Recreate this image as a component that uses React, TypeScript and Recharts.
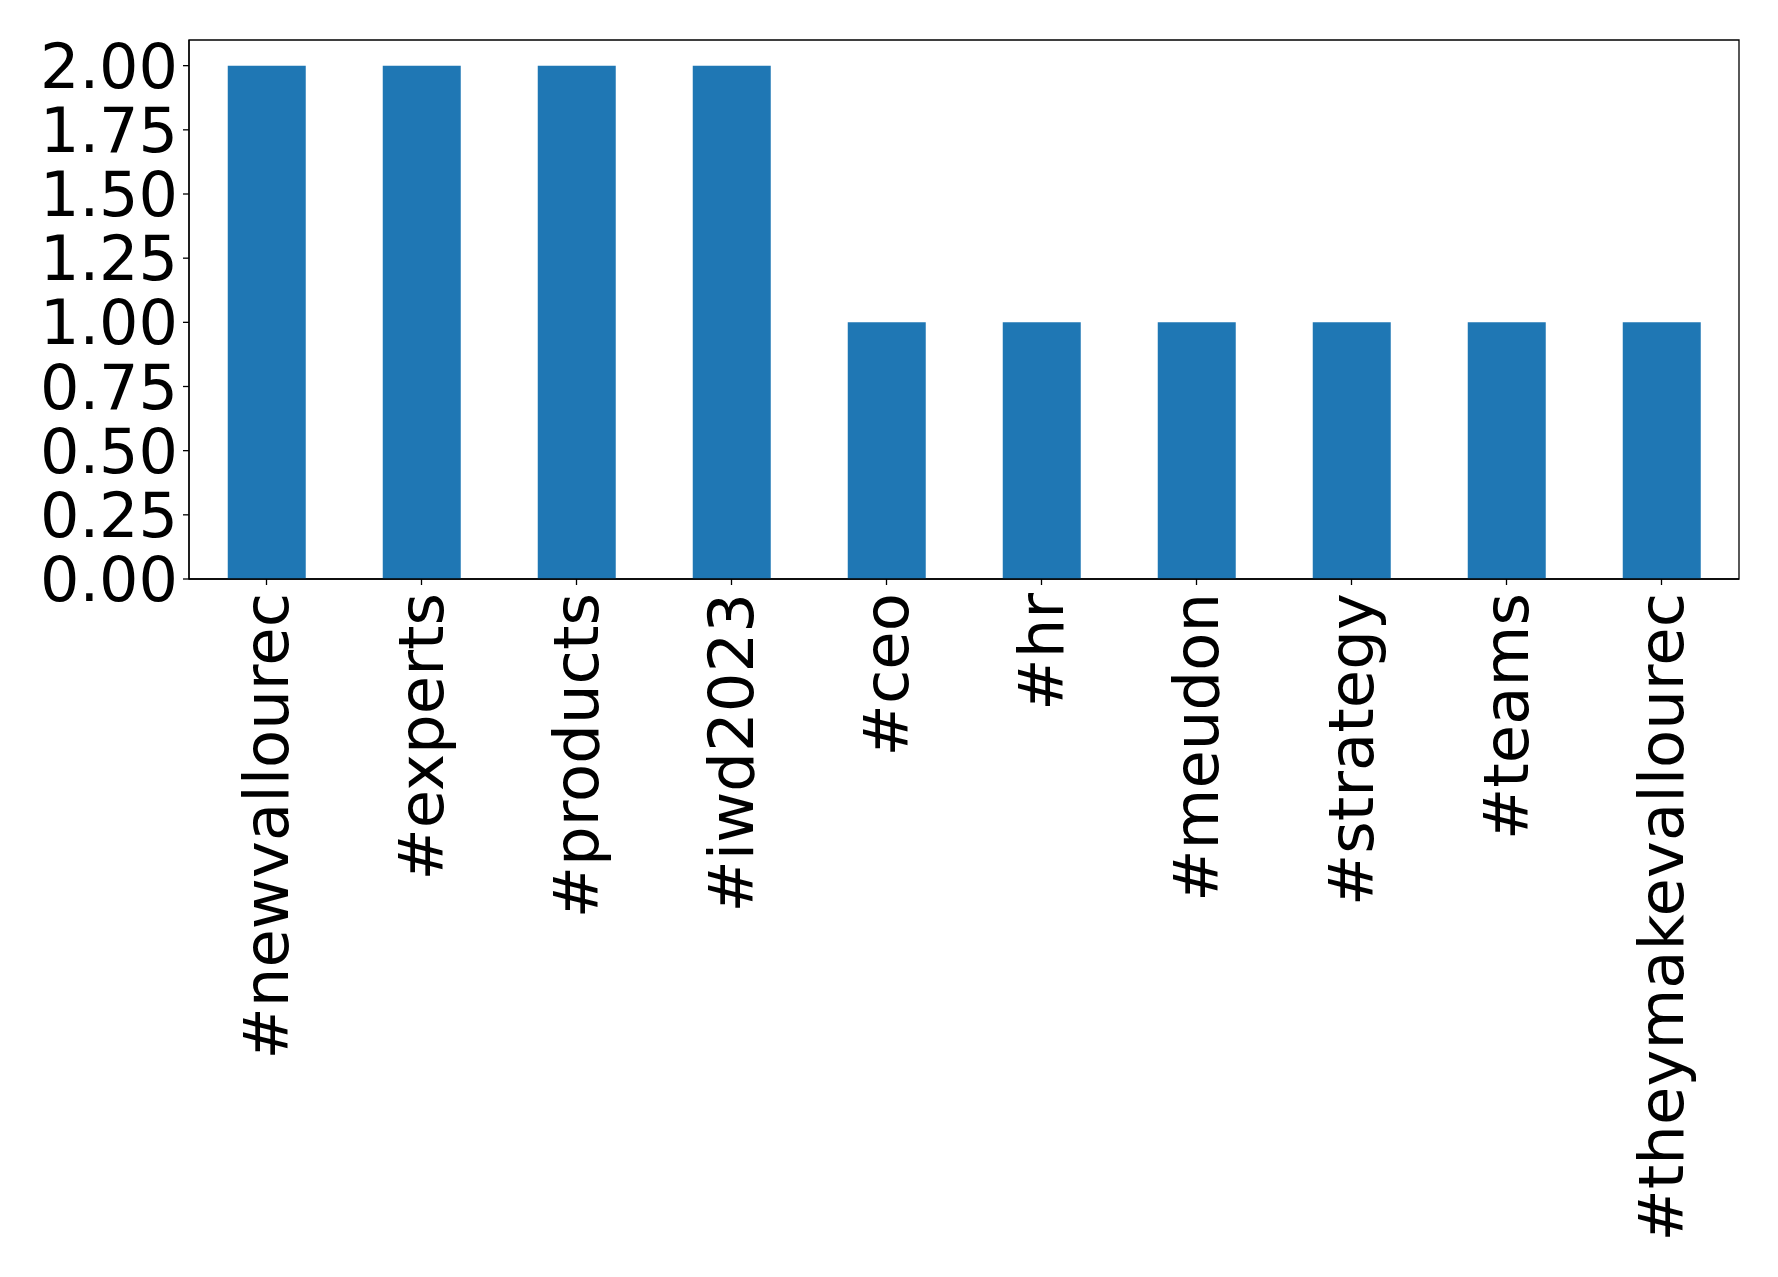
import React from "react";
import { BarChart, Bar, XAxis, YAxis, ReferenceArea } from "recharts";

const hashtags = [
  "#newvallourec",
  "#experts",
  "#products",
  "#iwd2023",
  "#ceo",
  "#hr",
  "#meudon",
  "#strategy",
  "#teams",
  "#theymakevallourec",
];
const counts = [2, 2, 2, 2, 1, 1, 1, 1, 1, 1];
const yTicks = [0, 0.25, 0.5, 0.75, 1, 1.25, 1.5, 1.75, 2];

const FONT = "'DejaVu Sans', sans-serif";

const VerticalTick = (props: any) => {
  const { x, y, payload } = props;
  return (
    <text
      x={x}
      y={y}
      transform={`rotate(-90, ${x}, ${y})`}
      textAnchor="end"
      dominantBaseline="central"
      fontFamily={FONT}
      fontSize={62.5}
      fill="#000"
    >
      {payload.value}
    </text>
  );
};

export default function App() {
  const data = hashtags.map((tag, i) => ({ tag, count: counts[i] }));

  return (
    <div style={{ position: "absolute", left: 0, top: 0, background: "#fff" }}>
      <BarChart
        width={1778}
        height={1277}
        data={data}
        margin={{ top: 40, right: 39, left: 0, bottom: 0 }}
        barCategoryGap="25%"
      >
        <XAxis
          dataKey="tag"
          interval={0}
          height={698}
          tick={<VerticalTick />}
          tickSize={6}
          tickMargin={8}
          stroke="#000"
          strokeWidth={1.3}
        />
        <YAxis
          domain={[0, 2.1]}
          ticks={yTicks}
          interval={0}
          width={189}
          tickFormatter={(v: number) => v.toFixed(2)}
          tick={{ fill: "#000", fontSize: 62, fontFamily: FONT }}
          tickSize={6}
          tickMargin={5}
          stroke="#000"
          strokeWidth={1.3}
          allowDataOverflow
        />
        <Bar dataKey="count" fill="#1f77b4" isAnimationActive={false} />
        <ReferenceArea
          y1={0}
          y2={2.1}
          fill="none"
          fillOpacity={0}
          stroke="#000"
          strokeWidth={1.3}
          ifOverflow="visible"
        />
      </BarChart>
    </div>
  );
}
